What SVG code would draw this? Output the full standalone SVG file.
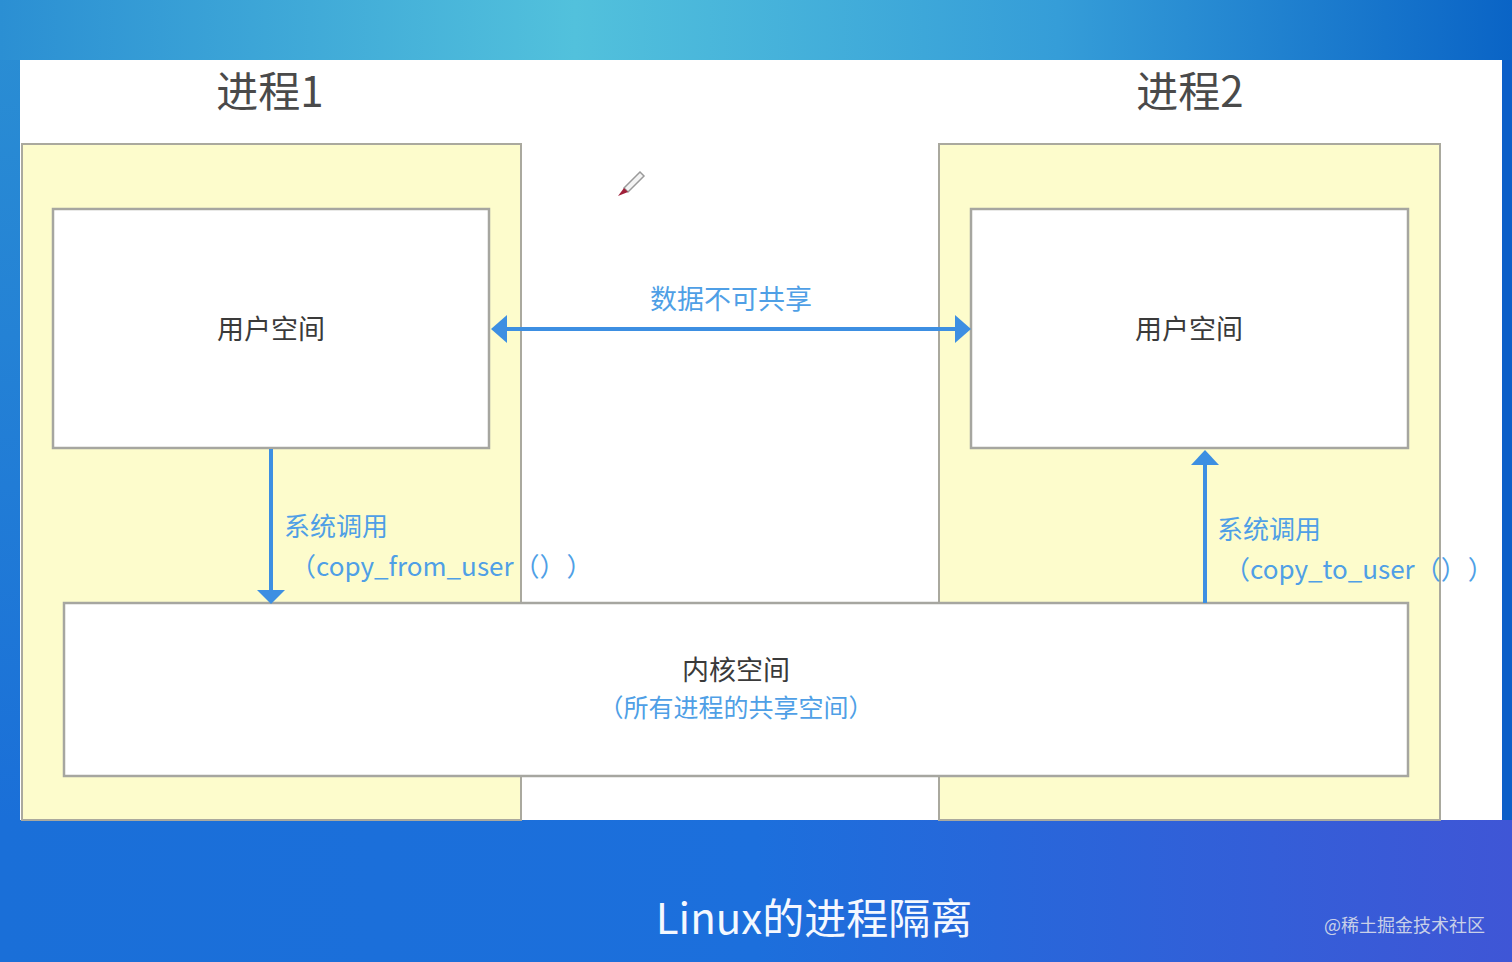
<svg xmlns="http://www.w3.org/2000/svg" width="1512" height="962" viewBox="0 0 1512 962">
<defs>
<linearGradient id="bgBottom" x1="0" y1="0" x2="1" y2="0">
<stop offset="0" stop-color="#1a6fd8"/>
<stop offset="0.5" stop-color="#1c6fdc"/>
<stop offset="1" stop-color="#3f56d6"/>
</linearGradient>
<linearGradient id="bgTop" x1="0" y1="0" x2="1" y2="0">
<stop offset="0" stop-color="#2b8fd3"/>
<stop offset="0.38" stop-color="#52c1dc"/>
<stop offset="0.7" stop-color="#359dd8"/>
<stop offset="1" stop-color="#0a64c6"/>
</linearGradient>
<linearGradient id="bgLeft" x1="0" y1="0" x2="0" y2="1">
<stop offset="0" stop-color="#2b8fd3"/>
<stop offset="1" stop-color="#1a6fd8"/>
</linearGradient>
<style>
.yel{fill:#fdfccc;stroke:#aaa99e;stroke-width:2}
.box{fill:#ffffff;stroke:#a6a6a0;stroke-width:2.5}
.cjk{font-family:"Noto Sans CJK SC","Noto Sans",sans-serif}
.title{font-size:42px;fill:#4a4a4a}
.lbl{font-size:27px;fill:#3a3a3a}
.blue{fill:#4f9fe6}
.line{stroke:#3d8fe2;stroke-width:4;fill:none}
.head{fill:#3d8fe2}
</style>
</defs>
<rect x="0" y="0" width="1512" height="962" fill="url(#bgBottom)"/>
<rect x="0" y="0" width="20" height="820" fill="url(#bgLeft)"/>
<rect x="1502" y="60" width="10" height="760" fill="#0b5fc8"/>
<rect x="0" y="0" width="1512" height="60" fill="url(#bgTop)"/>
<rect x="20" y="60" width="1482" height="760" fill="#ffffff"/>

<g id="process1">
<rect class="yel" x="22" y="144" width="499" height="676"/>
<text class="cjk title" x="270" y="107" text-anchor="middle">进程1</text>
</g>
<g id="process2">
<rect class="yel" x="939" y="144" width="501" height="676"/>
<text class="cjk title" x="1190" y="107" text-anchor="middle">进程2</text>
</g>
<g id="user1">
<rect class="box" x="53" y="209" width="436" height="239"/>
<text class="cjk lbl" x="271" y="339" text-anchor="middle">用户空间</text>
</g>
<g id="user2">
<rect class="box" x="971" y="209" width="437" height="239"/>
<text class="cjk lbl" x="1189" y="339" text-anchor="middle">用户空间</text>
</g>
<g id="kernel">
<rect class="box" x="64" y="603" width="1344" height="173"/>
<text class="cjk lbl" x="736" y="680" text-anchor="middle">内核空间</text>
<text class="cjk blue" font-size="25" x="736" y="717" text-anchor="middle">（所有进程的共享空间）</text>
</g>

<g id="connectors">
<line class="line" x1="505" y1="329" x2="957" y2="329"/>
<polygon class="head" points="491,329 507,315 507,343"/>
<polygon class="head" points="971,329 955,315 955,343"/>
<text class="cjk blue" font-size="27" x="731" y="309" text-anchor="middle">数据不可共享</text>

<line class="line" x1="271" y1="449" x2="271" y2="592"/>
<polygon class="head" points="271,604 257,590 285,590"/>
<text class="cjk blue" font-size="26" x="284" y="536">系统调用</text>
<text class="cjk blue" font-size="26" x="290" y="576">（copy_from_user（）<tspan dx="14">）</tspan></text>

<line class="line" x1="1205" y1="603" x2="1205" y2="462"/>
<polygon class="head" points="1205,450 1191,465 1219,465"/>
<text class="cjk blue" font-size="26" x="1217" y="539">系统调用</text>
<text class="cjk blue" font-size="26" x="1224" y="579">（copy_to_user（）<tspan dx="14">）</tspan></text>
</g>

<g id="cursor">
<path d="M640,172 L624,188 L628,192 L644,176 Z" fill="#f4f4f4" stroke="#9a9a9a" stroke-width="1.5"/>
<path d="M624,188 L618,196 L628,192 Z" fill="#a0203a"/>
</g>

<text class="cjk" font-size="42" fill="#f4f8ff" x="814" y="934" text-anchor="middle">Linux的进程隔离</text>
<text class="cjk" font-size="18" fill="#c8d0e8" x="1485" y="932" text-anchor="end">@稀土掘金技术社区</text>
</svg>
